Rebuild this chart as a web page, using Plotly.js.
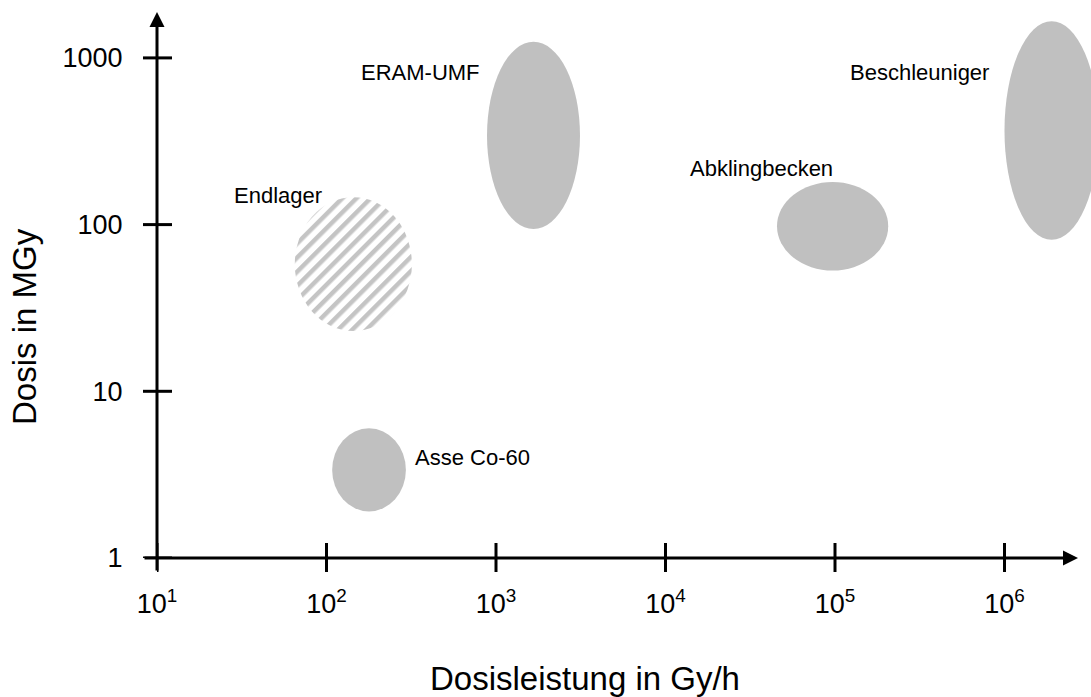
<!DOCTYPE html>
<html><head><meta charset="utf-8">
<script src="https://cdn.plot.ly/plotly-3.0.1.min.js"></script>
<style>html,body{margin:0;padding:0;background:#fff}</style>
</head><body>
<div id="chart" style="width:1091px;height:697px"></div>
<script>
// ---- data ----
const regions = ["Asse Co-60", "Endlager", "ERAM-UMF", "Abklingbecken", "Beschleuniger"];
const doseRateLow  = [108, 65, 885, 45500, 1.0e6];      // Gy/h
const doseRateHigh = [294, 319, 3130, 206000, 3.6e6];   // Gy/h
const doseLow  = [1.9, 23, 94, 53, 81];                 // MGy
const doseHigh = [6.0, 146, 1250, 180, 1660];           // MGy
const hatched  = [false, true, false, false, false];
const labelDoseRate = [730, 52, 360, 37000, 317000];
const labelDose     = [4.03, 150, 823, 216, 812];
const xTickVals = [1e1, 1e2, 1e3, 1e4, 1e5, 1e6];
const xTickText = ["10<sup>1</sup>", "10<sup>2</sup>", "10<sup>3</sup>", "10<sup>4</sup>", "10<sup>5</sup>", "10<sup>6</sup>"];
const yTickVals = [1, 10, 100, 1000];
const yTickText = ["1", "10", "100", "1000"];
const xTitle = "Dosisleistung in Gy/h";
const yTitle = "Dosis in MGy";

// ---- layout ----
const W = 1091, H = 697;
const M = {l: 157, r: 0, t: 10, b: 139};
const plotW = W - M.l - M.r, plotH = H - M.t - M.b;
const FONT = "Liberation Sans, Arial, Helvetica, sans-serif";
const FILL = "#c0c0c0";

const shapes = [];
regions.forEach((r, i) => {
  shapes.push({
    type: "circle", xref: "x", yref: "y",
    x0: doseRateLow[i], x1: doseRateHigh[i], y0: doseLow[i], y1: doseHigh[i],
    fillcolor: hatched[i] ? "#ffffff" : FILL, line: {width: 0}, layer: "above",
    name: "region" + i
  });
});
// ticks crossing the axes
xTickVals.forEach(v => shapes.push({
  type: "line", xref: "x", yref: "paper", ysizemode: "pixel", yanchor: 0,
  x0: v, x1: v, y0: -14, y1: 15, line: {color: "#000", width: 3}, layer: "above"
}));
yTickVals.forEach(v => shapes.push({
  type: "line", yref: "y", xref: "paper", xsizemode: "pixel", xanchor: 0,
  y0: v, y1: v, x0: -14, x1: 15, line: {color: "#000", width: 3}, layer: "above"
}));

const px2paperX = px => (px - M.l) / plotW;
const px2paperY = py => (H - M.b - py) / plotH;

const annotations = [];
regions.forEach((r, i) => annotations.push({
  text: r, xref: "x", yref: "y",
  x: Math.log10(labelDoseRate[i]), y: Math.log10(labelDose[i]),
  showarrow: false, xanchor: "center", yanchor: "middle",
  font: {family: FONT, size: 22, color: "#000"}
}));
// axis lines with arrow heads
annotations.push({
  text: "", xref: "paper", yref: "paper", x: px2paperX(1078), y: 0,
  axref: "pixel", ayref: "pixel", ax: -(1078 - 143), ay: 0,
  showarrow: true, arrowhead: 2, arrowsize: 1, arrowwidth: 3, arrowcolor: "#000", standoff: 0
});
annotations.push({
  text: "", xref: "paper", yref: "paper", x: 0, y: px2paperY(12),
  axref: "pixel", ayref: "pixel", ax: 0, ay: 572 - 12,
  showarrow: true, arrowhead: 2, arrowsize: 1, arrowwidth: 3, arrowcolor: "#000", standoff: 0
});
// axis titles
annotations.push({
  text: xTitle, xref: "paper", yref: "paper", x: px2paperX(585), y: px2paperY(678),
  showarrow: false, xanchor: "center", yanchor: "middle",
  font: {family: FONT, size: 33, color: "#000"}
});
annotations.push({
  text: yTitle, xref: "paper", yref: "paper", x: px2paperX(25), y: px2paperY(327),
  showarrow: false, xanchor: "center", yanchor: "middle", textangle: -90,
  font: {family: FONT, size: 33, color: "#000"}
});

const layout = {
  width: W, height: H, margin: M,
  paper_bgcolor: "#fff", plot_bgcolor: "#fff",
  showlegend: false,
  font: {family: FONT, color: "#000"},
  xaxis: {
    type: "log", range: [1, 1 + plotW / 169.5], showgrid: false, zeroline: false, showline: false,
    tickmode: "array", tickvals: xTickVals, ticktext: xTickText,
    ticks: "outside", ticklen: 22, tickcolor: "rgba(0,0,0,0)",
    tickfont: {family: FONT, size: 27, color: "#000"}, fixedrange: true
  },
  yaxis: {
    type: "log", range: [0, plotH / 166.7], showgrid: false, zeroline: false, showline: false,
    tickmode: "array", tickvals: yTickVals, ticktext: yTickText,
    ticks: "outside", ticklen: 28, tickcolor: "rgba(0,0,0,0)",
    tickfont: {family: FONT, size: 27, color: "#000"}, fixedrange: true
  },
  shapes: shapes,
  annotations: annotations
};

const traces = [{
  type: "scatter", mode: "markers", x: [], y: [], hoverinfo: "skip", showlegend: false
}];

Plotly.newPlot("chart", traces, layout, {staticPlot: true, displayModeBar: false}).then(gd => {
  const svg = gd.querySelector("svg.main-svg");
  const NS = "http://www.w3.org/2000/svg";
  let defs = svg.querySelector("defs");
  if (!defs) { defs = document.createElementNS(NS, "defs"); svg.insertBefore(defs, svg.firstChild); }
  const pat = document.createElementNS(NS, "pattern");
  pat.setAttribute("id", "hatchEndlager");
  pat.setAttribute("patternUnits", "userSpaceOnUse");
  pat.setAttribute("width", "10");
  pat.setAttribute("height", "10");
  pat.setAttribute("patternTransform", "rotate(45)");
  const bg = document.createElementNS(NS, "rect");
  bg.setAttribute("width", "10"); bg.setAttribute("height", "10"); bg.setAttribute("fill", "#ffffff");
  const st = document.createElementNS(NS, "rect");
  st.setAttribute("width", "4.5"); st.setAttribute("height", "10"); st.setAttribute("fill", "#c4c4c4");
  pat.appendChild(bg); pat.appendChild(st);
  defs.appendChild(pat);
  hatched.forEach((h, i) => {
    if (!h) return;
    const p = gd.querySelector('.shapelayer path[data-index="' + i + '"]');
    if (p) { p.style.fill = "url(#hatchEndlager)"; p.style.fillOpacity = 1; }
  });
});
</script>
</body></html>
